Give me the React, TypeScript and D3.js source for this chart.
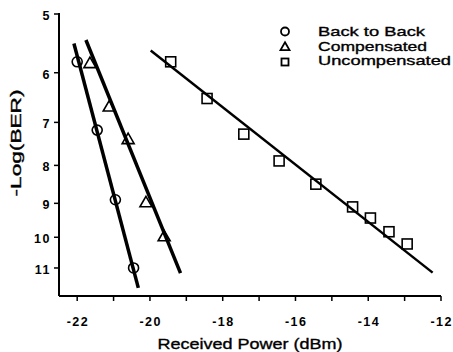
import React from "react";
import * as d3 from "d3";

const xTicks = [-22, -21, -20, -19, -18, -17, -16, -15, -14, -13, -12];
const xTickLabels = [-22, -20, -18, -16, -14, -12];
const yTicks = [5, 6, 7, 8, 9, 10, 11];

const b2bX = [-22.0, -21.45, -20.95, -20.45];
const b2bY = [5.8, 7.17, 8.9, 11.0];
const b2bFitX = [-22.09, -20.32];
const b2bFitY = [5.48, 11.7];

const compX = [-21.65, -21.12, -20.6, -20.11, -19.61];
const compY = [5.83, 6.67, 7.38, 8.98, 9.98];
const compFitX = [-21.76, -19.16];
const compFitY = [5.42, 11.18];

const uncX = [-19.43, -18.43, -17.42, -16.45, -15.44, -14.43, -13.94, -13.43, -12.93];
const uncY = [5.8, 6.5, 7.26, 7.89, 8.48, 9.1, 9.42, 9.83, 10.21];
const uncFitX = [-19.98, -12.23];
const uncFitY = [5.6, 11.16];

const legendLabels = ["Back to Back", "Compensated", "Uncompensated"];

const W = 453;
const H = 352;
const FONT = "'Liberation Sans', Arial, sans-serif";

export default function App() {
  const x = d3.scaleLinear().domain([-22.5, -12]).range([59, 441]);
  const y = d3.scaleLog().domain([5, 12]).range([14, 296]);
  const line = d3
    .line<[number, number]>()
    .x((d) => x(d[0]))
    .y((d) => y(d[1]));
  const pairs = (xs: number[], ys: number[]) => xs.map((v, i) => [v, ys[i]] as [number, number]);

  const tri = (cx: number, cy: number, s: number) => {
    const h = s * 0.87;
    return `M${cx},${cy - h * 0.6}L${cx + s / 2},${cy + h * 0.4}L${cx - s / 2},${cy + h * 0.4}Z`;
  };

  const x0 = x.range()[0];
  const yb = y.range()[1];

  return (
    <svg
      width={W}
      height={H}
      style={{ position: "absolute", left: 0, top: 0, background: "#fff" }}
      fontFamily={FONT}
    >
      <rect width={W} height={H} fill="#fff" />
      {/* axes */}
      <line x1={x0} y1={y(5) - 1} x2={x0} y2={yb} stroke="#000" strokeWidth={2} />
      <line x1={x0} y1={yb} x2={x.range()[1]} y2={yb} stroke="#000" strokeWidth={2} />
      {yTicks.map((t) => (
        <g key={"y" + t}>
          <line x1={x0 - 5} x2={x0} y1={y(t)} y2={y(t)} stroke="#000" strokeWidth={1.5} />
          <text
            x={x0 - 8}
            y={y(t) + 6}
            textAnchor="end"
            fontSize={12.5}
            fontWeight="bold"
            letterSpacing={1.5}
            fill="#000"
          >
            {t}
          </text>
        </g>
      ))}
      {xTicks.map((t) => (
        <line key={"x" + t} x1={x(t)} x2={x(t)} y1={yb} y2={yb + 5} stroke="#000" strokeWidth={1.5} />
      ))}
      {xTickLabels.map((t) => (
        <text
          key={"xl" + t}
          x={x(t) + 0.75}
          y={326}
          textAnchor="middle"
          fontSize={12.5}
          fontWeight="bold"
          letterSpacing={1.5}
          fill="#000"
        >
          {t}
        </text>
      ))}
      <text
        x={250}
        y={349}
        textAnchor="middle"
        fontSize={15}
        textLength={185}
        lengthAdjust="spacingAndGlyphs"
        fill="#000"
        stroke="#000"
        strokeWidth={0.35}
      >
        Received Power (dBm)
      </text>
      <text
        transform={`translate(21,143) rotate(-90)`}
        textAnchor="middle"
        fontSize={15}
        textLength={107}
        lengthAdjust="spacingAndGlyphs"
        fill="#000"
        stroke="#000"
        strokeWidth={0.35}
      >
        -Log(BER)
      </text>

      {/* fit lines */}
      <path d={line(pairs(b2bFitX, b2bFitY)) || ""} stroke="#000" strokeWidth={3.5} fill="none" />
      <path d={line(pairs(compFitX, compFitY)) || ""} stroke="#000" strokeWidth={3.5} fill="none" />
      <path d={line(pairs(uncFitX, uncFitY)) || ""} stroke="#000" strokeWidth={2.5} fill="none" />

      {/* markers */}
      {b2bX.map((v, i) => (
        <circle key={"c" + i} cx={x(v)} cy={y(b2bY[i])} r={5} fill="none" stroke="#000" strokeWidth={1.6} />
      ))}
      {compX.map((v, i) => (
        <path key={"t" + i} d={tri(x(v), y(compY[i]), 12)} fill="none" stroke="#000" strokeWidth={1.6} />
      ))}
      {uncX.map((v, i) => (
        <rect
          key={"s" + i}
          x={x(v) - 5}
          y={y(uncY[i]) - 5}
          width={10}
          height={10}
          fill="none"
          stroke="#000"
          strokeWidth={1.6}
        />
      ))}

      {/* legend */}
      <circle cx={285} cy={31.5} r={4} fill="none" stroke="#000" strokeWidth={1.8} />
      <path d={tri(285, 47, 9)} fill="none" stroke="#000" strokeWidth={1.8} />
      <rect x={281.5} y={58.5} width={7} height={7} fill="none" stroke="#000" strokeWidth={1.8} />
      {legendLabels.map((l, i) => (
        <text
          key={l}
          x={318}
          y={36 + i * 14.7}
          fontSize={13.5}
          textLength={[107, 109, 133][i]}
          lengthAdjust="spacingAndGlyphs"
          fill="#000"
          stroke="#000"
          strokeWidth={0.35}
        >
          {l}
        </text>
      ))}
    </svg>
  );
}
